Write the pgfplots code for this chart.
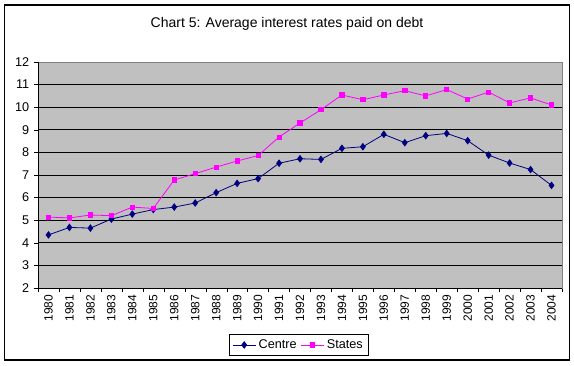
\documentclass[border=0pt]{standalone}
\usepackage{pgfplots}
\pgfplotsset{compat=1.18}
\usepackage{fontspec}
\setmainfont{Liberation Sans}
\definecolor{plotgray}{HTML}{C0C0C0}
\definecolor{centre}{HTML}{000080}
\definecolor{states}{HTML}{FF00FF}
\begin{document}
\begin{tikzpicture}
\useasboundingbox (0,0) rectangle (430.5pt,273.75pt);
\fill[white] (0,0) rectangle (430.5pt,273.75pt);
\draw[black, line width=0.8pt] (3.3pt,3.75pt) rectangle (427pt,270pt);
\node[font=\fontsize{10.5}{12}\selectfont] at (215.25pt,255.75pt) {Chart 5: Average interest rates paid on debt};
\begin{axis}[
  at={(28.5pt,57.75pt)}, anchor=south west,
  scale only axis, width=393pt, height=169.5pt,
  xmin=-0.5, xmax=24.5, ymin=2, ymax=12,
  ytick={2,3,...,12},
  xtick={0,...,24},
  xticklabels={1980,1981,1982,1983,1984,1985,1986,1987,1988,1989,1990,1991,1992,1993,1994,1995,1996,1997,1998,1999,2000,2001,2002,2003,2004},
  minor xtick={-0.5,0.5,...,24.5},
  major x tick style={draw=none},
  minor x tick style={black},
  y tick style={black},
  tick align=outside,
  major tick length=3pt,
  minor tick length=3pt,
  xtick pos=bottom, ytick pos=left,
  axis background/.style={fill=plotgray},
  axis line style={draw=gray},
  ymajorgrids, grid style={black, line width=0.7pt},
  x tick label style={rotate=90, anchor=east, font=\fontsize{9}{10}\selectfont, inner sep=2pt},
  y tick label style={font=\fontsize{9.5}{11}\selectfont},
  /pgf/number format/assume math mode=true,
  legend columns=2,
  legend style={at={(0.498,-0.252)}, anchor=center, draw=black, fill=white, font=\fontsize{9.5}{11}\selectfont, inner sep=2pt, /tikz/every even column/.append style={column sep=1pt}},
  legend cell align=left,
  clip=false,
]
\addplot[centre, line width=0.6pt, mark=diamond*, mark size=2.4pt, mark options={fill=centre, draw=centre}] coordinates {
(0,4.35) (1,4.68) (2,4.65) (3,5.05) (4,5.27) (5,5.47) (6,5.58) (7,5.76) (8,6.22) (9,6.63) (10,6.84) (11,7.52) (12,7.72) (13,7.69) (14,8.18) (15,8.25) (16,8.80) (17,8.43) (18,8.74) (19,8.84) (20,8.52) (21,7.88) (22,7.53) (23,7.24) (24,6.54)
};
\addlegendentry{Centre}
\addplot[states, line width=0.6pt, mark=square*, mark size=1.6pt, mark options={fill=states, draw=states}] coordinates {
(0,5.14) (1,5.10) (2,5.23) (3,5.20) (4,5.58) (5,5.52) (6,6.78) (7,7.06) (8,7.35) (9,7.62) (10,7.86) (11,8.68) (12,9.30) (13,9.89) (14,10.54) (15,10.33) (16,10.54) (17,10.73) (18,10.50) (19,10.78) (20,10.36) (21,10.67) (22,10.19) (23,10.41) (24,10.10)
};
\addlegendentry{States}
\draw[black] (axis cs:-0.5,12) -- (axis cs:-0.5,2) -- (axis cs:24.5,2);
\end{axis}
\end{tikzpicture}
\end{document}
